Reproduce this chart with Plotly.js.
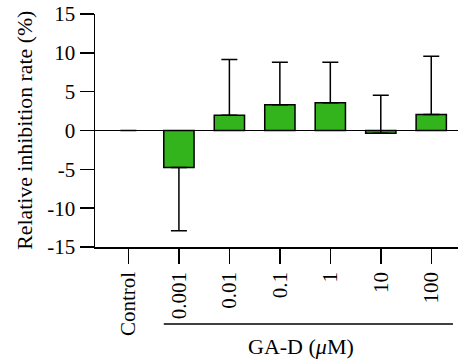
<!DOCTYPE html>
<html>
<head>
<meta charset="utf-8">
<script src="https://cdn.plot.ly/plotly-3.0.1.min.js"></script>
<style>html,body{margin:0;padding:0;background:#fff;}#chart{width:458px;height:359px;}</style>
</head>
<body>
<div id="chart"></div>
<script>
var categories = ["Control", "0.001", "0.01", "0.1", "1", "10", "100"];
var values = [0, -4.75, 1.97, 3.3, 3.56, -0.35, 2.06];
var errUp = [0, 0, 7.17, 5.5, 5.24, 4.9, 7.5];
var errDown = [0, 8.15, 0, 0, 0, 0, 0];
var yTicks = [-15, -10, -5, 0, 5, 10, 15];
var groupLabel = "GA-D (<i>μ</i>M)";
var yTitle = "Relative inhibition rate (%)";

var font = "'Liberation Serif'";
var trace = {
  type: "bar",
  x: categories.map(function(c, i){ return i; }),
  y: values,
  width: 0.6,
  marker: {color: "#34b41c", line: {color: "#000", width: values.map(function(v){ return v === 0 ? 0 : 1.5; })}},
  error_y: {type: "data", symmetric: false, array: errUp, arrayminus: errDown,
            color: "#000", thickness: 1.5, width: 8},
  hoverinfo: "skip"
};
var layout = {
  width: 458, height: 359,
  margin: {l: 95, r: 0, t: 14, b: 112},
  paper_bgcolor: "#fff", plot_bgcolor: "#fff",
  showlegend: false,
  font: {family: font, size: 21, color: "#000"},
  xaxis: {
    range: [-0.663, 6.53],
    tickmode: "array",
    tickvals: categories.map(function(c, i){ return i; }),
    ticktext: categories,
    tickangle: -90,
    ticks: "outside", ticklen: 15, tickwidth: 1.5, tickcolor: "#000",
    showline: true, linecolor: "#000", linewidth: 1.5,
    showgrid: false, zeroline: false,
    tickfont: {family: font, size: 21, color: "#000"}
  },
  yaxis: {
    range: [-15, 15],
    tickmode: "array", tickvals: yTicks,
    ticktext: yTicks.map(String),
    ticks: "outside", ticklen: 14, tickwidth: 1.5, tickcolor: "#000",
    showline: true, linecolor: "#000", linewidth: 1.5,
    showgrid: false,
    zeroline: true, zerolinecolor: "#000", zerolinewidth: 1.5,
    tickfont: {family: font, size: 21, color: "#000"}
  },
  shapes: [{
    type: "line", xref: "x", yref: "paper",
    x0: 0.7, x1: 6.43, y0: -0.33, y1: -0.33,
    line: {color: "#000", width: 1.5}
  }],
  annotations: [{
    xref: "x", yref: "paper", x: 3.41, y: -0.425,
    text: groupLabel, showarrow: false,
    font: {family: font, size: 22, color: "#000"},
    xanchor: "center", yanchor: "middle"
  }, {
    xref: "paper", yref: "paper", x: -0.195, y: 0.5,
    text: yTitle, showarrow: false, textangle: -90,
    font: {family: font, size: 21.8, color: "#000"},
    xanchor: "center", yanchor: "middle"
  }]
};
Plotly.newPlot("chart", [trace], layout, {displayModeBar: false, staticPlot: true});
</script>
</body>
</html>
